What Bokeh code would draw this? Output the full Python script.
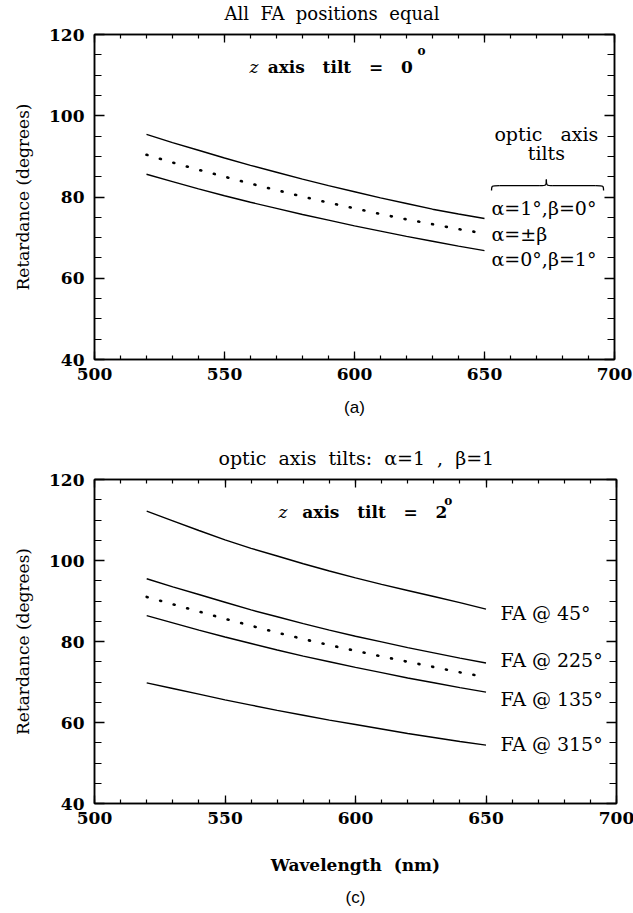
from bokeh.plotting import figure
from bokeh.models import LinearAxis, Range1d, Label, Title, SingleIntervalTicker, CustomLabelingPolicy
from bokeh.layouts import column
from bokeh.embed import file_html
from bokeh.resources import INLINE

# ---------------- data ----------------
wavelength = [520, 530, 540, 550, 560, 570, 580, 590, 600, 610, 620, 630, 640, 650]

# panel (a): all FA positions equal, z axis tilt = 0
a_alpha1_beta0 = [95.4, 93.4, 91.5, 89.6, 87.8, 86.1, 84.4, 82.8, 81.3, 79.8, 78.4, 77.0, 75.8, 74.7]
a_alpha_pm_beta = [90.4, 88.5, 86.7, 85.0, 83.3, 81.7, 80.1, 78.6, 77.2, 75.8, 74.5, 73.3, 72.1, 71.0]
a_alpha0_beta1 = [85.6, 83.8, 82.0, 80.3, 78.7, 77.2, 75.7, 74.3, 72.9, 71.6, 70.3, 69.1, 67.9, 66.8]
a_labels = ["α=1°,β=0°", "α=±β", "α=0°,β=1°"]

# panel (c): optic axis tilts alpha=1, beta=1, z axis tilt = 2
c_fa45 = [112.2, 109.8, 107.4, 105.1, 103.0, 101.1, 99.2, 97.4, 95.7, 94.1, 92.6, 91.1, 89.6, 88.0]
c_fa225 = [95.5, 93.5, 91.6, 89.7, 87.8, 86.1, 84.4, 82.8, 81.3, 79.9, 78.5, 77.2, 75.9, 74.7]
c_dotted = [91.0, 89.2, 87.4, 85.6, 83.9, 82.2, 80.6, 79.1, 77.7, 76.3, 75.0, 73.7, 72.4, 71.2]
c_fa135 = [86.4, 84.6, 82.8, 81.1, 79.5, 77.9, 76.4, 75.0, 73.6, 72.3, 71.0, 69.8, 68.6, 67.5]
c_fa315 = [69.8, 68.4, 67.0, 65.6, 64.3, 63.0, 61.8, 60.6, 59.5, 58.4, 57.3, 56.3, 55.3, 54.4]
c_labels = ["FA @ 45°", "FA @ 225°", "FA @ 135°", "FA @ 315°"]

x_start, x_end, x_step = 500, 700, 50
y_start, y_end, y_step = 40, 120, 20

SERIF = "DejaVu Serif"
SANS = "Liberation Sans"
INK = "black"
SP = "\u00a0"  # non-collapsing space for the wide word gaps of the original

no_labels = CustomLabelingPolicy(code="""
for (const i of indices) { indices.unset(i) }
return indices
""")


def style_axes(p):
    for ax in p.xaxis:
        ax.ticker = SingleIntervalTicker(interval=x_step, num_minor_ticks=5)
        ax.major_tick_in = 8
        ax.minor_tick_in = 4
    for ax in p.yaxis:
        ax.ticker = SingleIntervalTicker(interval=y_step, num_minor_ticks=4)
        ax.major_tick_in = 10
        ax.minor_tick_in = 7
    for ax in p.xaxis + p.yaxis:
        ax.major_tick_out = 0
        ax.minor_tick_out = 0
        ax.axis_line_width = 1.5
        ax.axis_line_color = INK
        ax.major_tick_line_color = INK
        ax.minor_tick_line_color = INK
        ax.major_tick_line_width = 1.3
        ax.minor_tick_line_width = 1.2


def make_fig(fw, fh, left, right, top, bottom, title_text, title_size, title_offset):
    p = figure(frame_width=fw, frame_height=fh,
               x_range=Range1d(x_start, x_end), y_range=Range1d(y_start, y_end),
               output_backend="svg", toolbar_location=None,
               min_border_left=left, min_border_right=right,
               min_border_top=top, min_border_bottom=bottom,
               background_fill_color="white", border_fill_color="white")
    p.grid.visible = False
    p.outline_line_color = INK
    p.outline_line_width = 1.5
    p.title.text = title_text
    p.title.align = "left"
    p.title.offset = title_offset
    p.title.text_font = SERIF
    p.title.text_font_style = "normal"
    p.title.text_font_size = title_size
    p.title.text_color = INK
    p.title.standoff = 0
    # mirrored axes carrying only ticks
    p.add_layout(LinearAxis(major_label_policy=no_labels, major_label_standoff=0), "above")
    p.add_layout(LinearAxis(major_label_policy=no_labels, major_label_standoff=0), "right")
    style_axes(p)
    xb, yl = p.below[0], p.left[0]
    for ax in [xb, yl]:
        ax.major_label_text_font = SERIF
        ax.major_label_text_font_style = "bold"
        ax.major_label_text_font_size = "17px"
        ax.major_label_text_color = INK
    xb.major_label_standoff = 8
    yl.major_label_standoff = 10
    yl.axis_label = "Retardance (degrees)"
    yl.axis_label_text_font = SERIF
    yl.axis_label_text_font_style = "normal"
    yl.axis_label_text_font_size = "17px"
    yl.axis_label_text_color = INK
    yl.axis_label_standoff = 13
    return p


def add_tilt_text(p, xz, y, xrest, rest, xo, yo):
    p.add_layout(Label(x=xz, y=y, text="z", text_font=SERIF, text_font_style="italic",
                       text_font_size="17px", text_baseline="middle", text_align="left",
                       text_color=INK))
    p.add_layout(Label(x=xrest, y=y, text=rest, text_font=SERIF, text_font_style="bold",
                       text_font_size="17px", text_baseline="middle", text_align="left",
                       text_color=INK))
    p.add_layout(Label(x=xo, y=yo, text="o", text_font=SERIF, text_font_style="bold",
                       text_font_size="12px", text_baseline="middle", text_align="left",
                       text_color=INK))


def gap(n):
    return SP * n


# ---------------- panel (a) ----------------
title_a = gap(2).join(["All", "FA", "positions", "equal"])
pa = make_fig(520, 325, 94, 17, 31, 73, title_a, "18px", 130)
pa.line(wavelength, a_alpha1_beta0, line_color=INK, line_width=1.4)
pa.line(wavelength, a_alpha_pm_beta, line_color=INK, line_width=2.6,
        line_dash="1 13", line_cap="round")
pa.line(wavelength, a_alpha0_beta1, line_color=INK, line_width=1.4)
xa = pa.below[0]
xa.axis_label = "(a)"
xa.axis_label_text_font = SANS
xa.axis_label_text_font_style = "normal"
xa.axis_label_text_font_size = "17px"
xa.axis_label_text_color = INK
xa.axis_label_standoff = 15

add_tilt_text(pa, 559.6, 112.1, 566.6, gap(3).join(["axis", "tilt", "=", "0"]), 624.2, 115.9)

pa.add_layout(Label(x=673.8, y=95.4, text=gap(3).join(["optic", "axis"]), text_font=SERIF,
                    text_font_size="19px", text_align="center", text_baseline="middle",
                    text_color=INK))
pa.add_layout(Label(x=673.8, y=90.9, text="tilts", text_font=SERIF,
                    text_font_size="19px", text_align="center", text_baseline="middle",
                    text_color=INK))
# curly brace over the labels
bx0, bx1, bxm = 652.7, 695.8, 673.8
by_end, by_mid, by_tip = 81.6, 82.8, 84.3
pa.bezier(x0=[bx0, bx1], y0=[by_end, by_end], x1=[bx0 + 3, bx1 - 3], y1=[by_mid, by_mid],
          cx0=[bx0, bx1], cy0=[by_mid, by_mid], cx1=[bx0, bx1], cy1=[by_mid, by_mid],
          line_color=INK, line_width=1.3)
pa.segment(x0=[bx0 + 3, bxm + 2.5], y0=[by_mid, by_mid], x1=[bxm - 2.5, bx1 - 3], y1=[by_mid, by_mid],
           line_color=INK, line_width=1.3)
pa.bezier(x0=[bxm - 2.5, bxm + 2.5], y0=[by_mid, by_mid], x1=[bxm, bxm], y1=[by_tip, by_tip],
          cx0=[bxm, bxm], cy0=[by_mid, by_mid], cx1=[bxm, bxm], cy1=[by_mid, by_mid],
          line_color=INK, line_width=1.3)

a_series = [a_alpha1_beta0, a_alpha_pm_beta, a_alpha0_beta1]
a_dy = [2.5, 0.0, -2.1]
for lab, ser, dy in zip(a_labels, a_series, a_dy):
    pa.add_layout(Label(x=wavelength[-1] + 2.7, y=ser[-1] + dy, text=lab, text_font=SERIF,
                        text_font_size="19px", text_align="left", text_baseline="middle",
                        text_color=INK))

# ---------------- panel (c) ----------------
title_c = gap(2).join(["optic", "axis", "tilts:", "α=1", ",", "β=1"])
pc = make_fig(522, 324, 92, 17, 47, 104, title_c, "19px", 124)
for ser in [c_fa45, c_fa225, c_fa135, c_fa315]:
    pc.line(wavelength, ser, line_color=INK, line_width=1.4)
pc.line(wavelength, c_dotted, line_color=INK, line_width=2.6,
        line_dash="1 13", line_cap="round")
xc = pc.below[0]
xc.axis_label = "Wavelength" + gap(2) + "(nm)"
xc.axis_label_text_font = SERIF
xc.axis_label_text_font_style = "bold"
xc.axis_label_text_font_size = "17px"
xc.axis_label_text_color = INK
xc.axis_label_standoff = 28
pc.add_layout(Title(text="(c)", align="center", text_font=SANS, text_font_style="normal",
                    text_font_size="17px", text_color=INK, standoff=17), "below")

add_tilt_text(pc, 570.5, 111.9, 579.6, gap(3).join(["axis", "tilt", "=", "2"]), 634.0, 114.6)

c_series = [c_fa45, c_fa225, c_fa135, c_fa315]
c_dy = [-1.0, 0.8, -1.7, 0.2]
for lab, ser, dy in zip(c_labels, c_series, c_dy):
    pc.add_layout(Label(x=wavelength[-1] + 5.6, y=ser[-1] + dy, text=lab, text_font=SERIF,
                        text_font_size="19px", text_align="left", text_baseline="middle",
                        text_color=INK))

layout = column(pa, pc, spacing=0)
open("out.html", "w").write(file_html(layout, INLINE))
